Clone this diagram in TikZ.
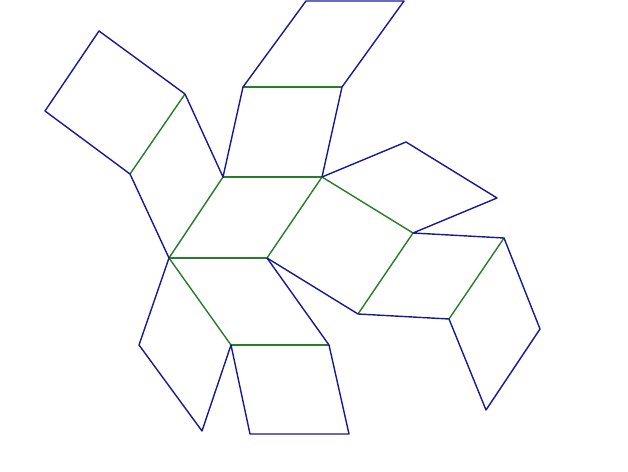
\documentclass[tikz,border=0pt]{standalone}
\usepackage{tikz}
\usetikzlibrary{positioning}
\definecolor{colorcut}  {RGB}{25 ,25 ,150}
\definecolor{colorfold} {RGB}{40 ,125,40 }

\begin{document}
\begin{tikzpicture}[
    x=0.02cm, y=-0.02cm,
    cut/.style={draw=colorcut,line width=0.8pt,line join=round},
    fold/.style={draw=colorfold,line width=0.8pt},
]

    % Frame
    \useasboundingbox (0,0) rectangle (628,472);

    % Vertices
    \coordinate (a)  at (99,31);
    \coordinate (b)  at (45,111);
    \coordinate (c)  at (185,94);
    \coordinate (d)  at (130,174);
    \coordinate (e)  at (223,177);
    \coordinate (f)  at (243,87);
    \coordinate (g)  at (342,87);
    \coordinate (h)  at (322,177);
    \coordinate (tl) at (306,1);
    \coordinate (tr) at (404,1);
    \coordinate (i)  at (406,142);
    \coordinate (j)  at (497,198);
    \coordinate (k)  at (413,233);
    \coordinate (l)  at (504,238);
    \coordinate (m)  at (358,314);
    \coordinate (n)  at (449,319);
    \coordinate (o)  at (540,329);
    \coordinate (bt) at (486,410);
    \coordinate (p)  at (169,258);
    \coordinate (q)  at (267,258);
    \coordinate (r)  at (231,345);
    \coordinate (s)  at (329,345);
    \coordinate (t)  at (139,345);
    \coordinate (u)  at (202,431);
    \coordinate (v)  at (250,434);
    \coordinate (w)  at (349,434);

    % Fold lines
    \draw[fold] (c) -- (d);
    \draw[fold] (f) -- (g);
    \draw[fold] (e) -- (h);
    \draw[fold] (e) -- (p);
    \draw[fold] (h) -- (q);
    \draw[fold] (p) -- (q);
    \draw[fold] (h) -- (k);
    \draw[fold] (k) -- (m);
    \draw[fold] (l) -- (n);
    \draw[fold] (p) -- (r);
    \draw[fold] (r) -- (s);

    % Cut lines
    \draw[cut] (c) -- (a) -- (b) -- (d) -- (p);
    \draw[cut] (c) -- (e) -- (f) -- (tl) -- (tr) -- (g) -- (h);
    \draw[cut] (h) -- (i) -- (j) -- (k) -- (l) -- (o) -- (bt) -- (n) -- (m) -- (q);
    \draw[cut] (q) -- (s) -- (w) -- (v) -- (r) -- (u) -- (t) -- (p);

\end{tikzpicture}
\end{document}
